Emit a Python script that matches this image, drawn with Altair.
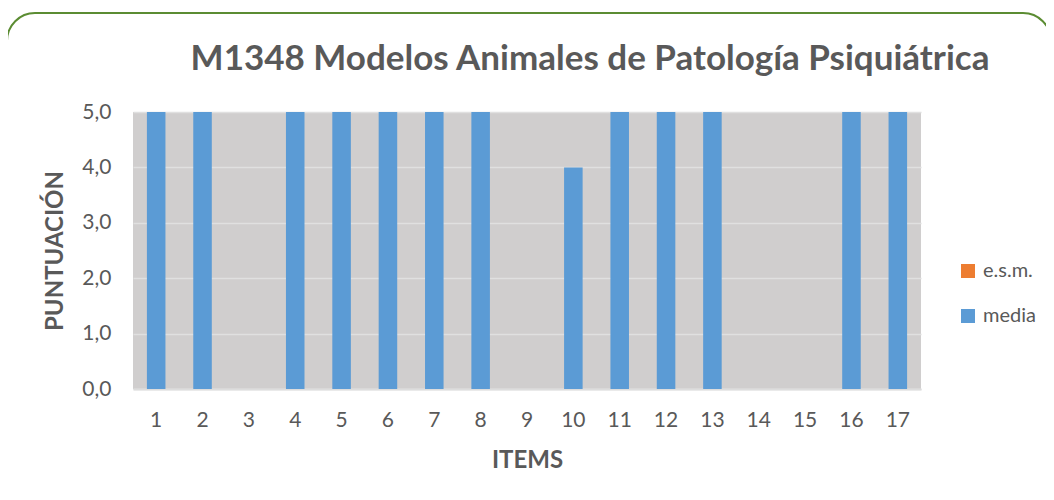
import altair as alt
import pandas as pd

items = [str(i) for i in range(1, 18)]
media = [5, 5, 0, 5, 5, 5, 5, 5, 0, 4, 5, 5, 5, 0, 0, 5, 5]
esm = [0] * 17
series = ["e.s.m.", "media"]
colors = ["#ED7D31", "#5B9BD5"]
title_text = "M1348 Modelos Animales de Patología Psiquiátrica"

rows = []
for it, m, e in zip(items, media, esm):
    rows.append({"item": it, "serie": "media", "valor": m})
    rows.append({"item": it, "serie": "e.s.m.", "valor": e})
df = pd.DataFrame(rows)

FONT = "Lato"
GREY = "#595959"
W, H = 788, 277

one = pd.DataFrame({"k": [0]})

frame = alt.Chart(one).mark_rect(
    fill=None, stroke="#5B8C32", strokeWidth=2, cornerRadius=28
).encode(
    x=alt.value(-126), x2=alt.value(918), y=alt.value(-99), y2=alt.value(420)
)

title = alt.Chart(one).mark_text(
    text=title_text, font=FONT, fontSize=35, fontWeight="bold", color=GREY,
    align="center", baseline="alphabetic"
).encode(x=alt.value(457), y=alt.value(-42))

bars = alt.Chart(df).mark_bar().encode(
    x=alt.X("item:N", sort=items,
            scale=alt.Scale(paddingInner=0.6, paddingOuter=0.3),
            axis=alt.Axis(title="ITEMS", labelAngle=0, labelFontSize=21,
                          labelColor=GREY, labelPadding=20, ticks=False,
                          domain=True, domainColor="#DDDDDD", domainWidth=2,
                          titleFontSize=24, titleColor=GREY, titleFontWeight="bold",
                          titlePadding=18, labelFont=FONT, titleFont=FONT)),
    y=alt.Y("valor:Q", stack="zero",
            scale=alt.Scale(domain=[0, 5], nice=False),
            axis=alt.Axis(title="PUNTUACIÓN", values=[0, 1, 2, 3, 4, 5],
                          labelExpr="replace(format(datum.value, '.1f'), '.', ',')",
                          labelFontSize=21, labelColor=GREY, labelPadding=22,
                          ticks=False, domain=False, grid=True,
                          gridColor="#E0E0E0", gridWidth=1.5,
                          titleFontSize=24, titleColor=GREY, titleFontWeight="bold",
                          titlePadding=14, labelFont=FONT, titleFont=FONT)),
    color=alt.Color("serie:N", scale=alt.Scale(domain=series, range=colors),
                    legend=alt.Legend(title=None, orient="none", legendX=825, legendY=149,
                                      symbolType="square", symbolSize=196,
                                      symbolStrokeWidth=0,
                                      labelFontSize=20, labelColor=GREY, labelFont=FONT,
                                      rowPadding=25, labelOffset=5)),
    order=alt.Order("serie:N", sort="descending"),
)

chart = alt.layer(bars, frame, title).properties(
    width=W, height=H,
    autosize=alt.AutoSizeParams(type="none"),
    padding={"left": 125, "top": 104, "right": 125, "bottom": 95},
).configure_view(
    fill="#D0CECE", stroke=None
)

chart.save("out.html", embed_options={"renderer": "svg", "actions": False})
